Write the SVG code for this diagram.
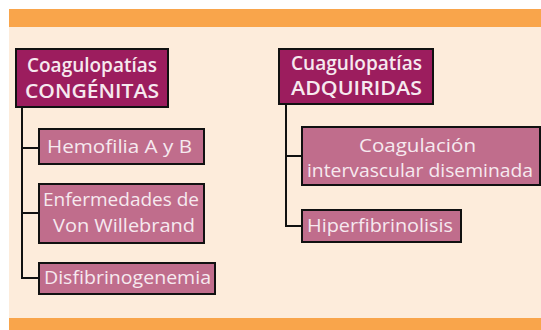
<svg xmlns="http://www.w3.org/2000/svg" width="541" height="330" viewBox="0 0 541 330">
<style>
.bar{fill:#F9A54B}
.head rect{fill:#9C1D5E;stroke:#111;stroke-width:2}
.item rect{fill:#C06D8C;stroke:#111;stroke-width:2}
text{font-family:"Open Sans","Liberation Sans",sans-serif;fill:#F6E9EF;font-size:19px}
.head text{font-weight:600}
.conn path{fill:none;stroke:#111;stroke-width:2}
</style>
<rect x="0" y="0" width="541" height="330" fill="#fff"/>
<rect x="9" y="27" width="532" height="291" fill="#FDECDB"/>
<rect class="bar" x="9" y="9" width="532" height="18"/>
<rect class="bar" x="9" y="318" width="532" height="12"/>
<g class="conn">
<path d="M22 107V278H39M22 148H39M22 213H39"/>
<path d="M286 104V226H302M286 156H302"/>
</g>
<g id="congenitas" class="head">
<rect x="16" y="49" width="152" height="58"/>
<text x="27" y="72" textLength="130" lengthAdjust="spacingAndGlyphs">Coagulopatías</text>
<text x="25" y="98" textLength="134" lengthAdjust="spacingAndGlyphs">CONGÉNITAS</text>
</g>
<g id="adquiridas" class="head">
<rect x="279" y="49" width="154" height="55"/>
<text x="291" y="70" textLength="131" lengthAdjust="spacingAndGlyphs">Cuagulopatías</text>
<text x="291" y="95" textLength="131" lengthAdjust="spacingAndGlyphs">ADQUIRIDAS</text>
</g>
<g id="hemofilia" class="item">
<rect x="39" y="129" width="165" height="35"/>
<text x="47" y="153" textLength="145" lengthAdjust="spacingAndGlyphs">Hemofilia A y B</text>
</g>
<g id="willebrand" class="item">
<rect x="39" y="184" width="165" height="59"/>
<text x="43" y="206" textLength="156" lengthAdjust="spacingAndGlyphs">Enfermedades de</text>
<text x="53" y="232" textLength="142" lengthAdjust="spacingAndGlyphs">Von Willebrand</text>
</g>
<g id="disfibrinogenemia" class="item">
<rect x="39" y="263" width="176" height="31"/>
<text x="44" y="284" textLength="167" lengthAdjust="spacingAndGlyphs">Disfibrinogenemia</text>
</g>
<g id="cid" class="item">
<rect x="302" y="127" width="238" height="58"/>
<text x="359" y="152" textLength="117" lengthAdjust="spacingAndGlyphs">Coagulación</text>
<text x="307" y="177" textLength="226" lengthAdjust="spacingAndGlyphs">intervascular diseminada</text>
</g>
<g id="hiperfibrinolisis" class="item">
<rect x="302" y="210" width="159" height="32"/>
<text x="307" y="232" textLength="146" lengthAdjust="spacingAndGlyphs">Hiperfibrinolisis</text>
</g>
</svg>
